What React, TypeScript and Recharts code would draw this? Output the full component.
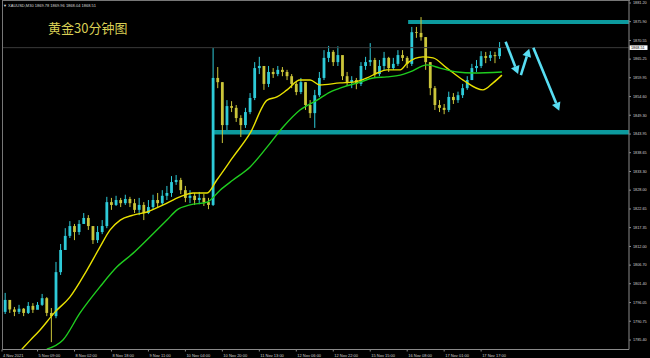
import { ComposedChart, Bar, Line, XAxis, YAxis, ReferenceArea, ReferenceLine } from 'recharts';

const UP = '#2ECAD8';
const DOWN = '#CBC53A';
const ARROW = '#58DDF2';
const ZONE = '#0C9A9E';

// 2-hour candles, first one 4 Nov 19:00
const firstOpen = 1793.4;
const closes = [
	1796.8, 1794.1, 1793.4, 1794.3, 1793.1, 1795.1, 1794.0, 1795.4, 1797.3, 1793.1,
	1792.2, 1804.7, 1811.0, 1815.0, 1817.8, 1816.1, 1818.4, 1820.1, 1817.8, 1813.8,
	1816.1, 1817.8, 1824.6, 1823.8, 1825.2, 1824.3, 1825.5, 1824.3, 1822.4, 1823.8,
	1821.5, 1823.2, 1825.2, 1824.3, 1826.4, 1827.2, 1830.3, 1830.9, 1828.0, 1825.8,
	1826.4, 1825.2, 1825.8, 1824.6, 1823.8, 1859.9, 1858.7, 1846.5, 1851.9, 1851.4,
	1848.5, 1846.5, 1850.2, 1854.2, 1862.7, 1863.3, 1858.2, 1861.6, 1861.0, 1862.2,
	1861.6, 1860.4, 1858.2, 1855.9, 1858.7, 1852.2, 1849.9, 1855.0, 1859.9, 1865.6,
	1867.3, 1864.4, 1866.4, 1860.4, 1858.7, 1859.3, 1858.2, 1863.3, 1864.4, 1865.0,
	1861.0, 1863.3, 1865.6, 1862.7, 1863.9, 1866.4, 1865.6, 1863.9, 1872.9, 1872.7,
	1871.5, 1864.4, 1857.0, 1852.2, 1851.4, 1850.8, 1854.5, 1853.6, 1855.0, 1857.0,
	1859.3, 1862.7, 1863.3, 1866.1, 1865.6, 1866.4, 1866.1, 1868.5,
];
const highs = [
	1798.8, 1796.2, 1794.8, 1795.4, 1794.5, 1796.2, 1795.9, 1796.2, 1798.5, 1797.6,
	1794.5, 1807.6, 1812.7, 1817.2, 1819.2, 1818.4, 1819.5, 1821.5, 1820.9, 1816.7,
	1817.8, 1819.5, 1826.1, 1825.8, 1826.4, 1825.8, 1826.7, 1826.1, 1825.5, 1825.8,
	1824.6, 1825.2, 1826.7, 1827.2, 1828.0, 1829.2, 1832.0, 1832.3, 1831.5, 1829.2,
	1828.0, 1827.2, 1827.5, 1826.9, 1825.8, 1868.4, 1863.0, 1858.7, 1853.6, 1853.3,
	1852.2, 1849.3, 1851.4, 1855.6, 1864.4, 1865.9, 1863.0, 1863.3, 1862.7, 1863.3,
	1863.0, 1862.2, 1861.0, 1858.7, 1859.9, 1858.7, 1853.6, 1856.5, 1861.6, 1867.8,
	1869.0, 1867.8, 1868.9, 1866.1, 1861.6, 1860.4, 1859.9, 1864.4, 1865.9, 1869.8,
	1865.6, 1865.0, 1867.3, 1865.9, 1865.6, 1867.8, 1867.8, 1866.1, 1874.4, 1874.4,
	1877.2, 1871.5, 1864.4, 1857.6, 1853.6, 1852.5, 1856.0, 1855.6, 1856.0, 1858.2,
	1860.4, 1863.9, 1865.0, 1867.5, 1867.3, 1867.5, 1867.3, 1870.1,
];
const lows = [
	1792.8, 1793.1, 1792.2, 1792.8, 1792.2, 1792.8, 1793.1, 1794.3, 1795.1, 1792.2,
	1784.8, 1791.6, 1803.9, 1811.2, 1814.4, 1813.8, 1815.3, 1818.4, 1816.7, 1812.7,
	1813.0, 1815.5, 1817.2, 1822.4, 1823.5, 1823.2, 1823.8, 1823.2, 1821.5, 1820.9,
	1819.5, 1821.2, 1822.4, 1823.0, 1823.8, 1825.2, 1826.1, 1829.5, 1826.9, 1824.6,
	1824.3, 1823.8, 1824.0, 1823.5, 1822.6, 1823.5, 1857.0, 1841.4, 1845.1, 1850.2,
	1847.4, 1843.1, 1845.7, 1849.6, 1853.6, 1861.0, 1856.5, 1857.3, 1859.9, 1860.4,
	1860.4, 1859.3, 1857.0, 1855.0, 1855.3, 1850.8, 1848.5, 1845.7, 1854.5, 1859.3,
	1864.4, 1863.3, 1863.3, 1859.3, 1857.6, 1857.0, 1856.7, 1857.6, 1862.2, 1863.3,
	1859.9, 1860.4, 1862.2, 1861.6, 1862.2, 1863.3, 1864.7, 1862.7, 1863.3, 1871.3,
	1870.5, 1862.2, 1855.0, 1850.8, 1850.2, 1849.6, 1850.2, 1852.5, 1852.8, 1854.2,
	1856.5, 1859.3, 1861.6, 1862.7, 1864.1, 1864.7, 1864.1, 1865.3,
];

// moving averages: [candle index, price]
const yellowMa = [
	[3.6, 1782.8], [5.4, 1785.3], [7.5, 1788.2], [10.8, 1793.4], [14.0, 1797.6],
	[17.7, 1805.3], [20.5, 1811.8], [22.7, 1816.7], [24.9, 1819.5], [27.7, 1820.9],
	[30.7, 1821.8], [34.2, 1823.8], [37.8, 1826.1], [40.7, 1827.2], [43.7, 1827.2],
	[45.8, 1830.9], [49.3, 1837.4], [53.0, 1844.2], [56.7, 1853.6], [58.8, 1854.5],
	[61.0, 1856.5], [63.8, 1859.3], [66.0, 1859.3], [68.1, 1857.9], [72.5, 1858.5],
	[75.3, 1858.7], [78.3, 1859.9], [80.5, 1861.3], [82.6, 1862.2], [85.5, 1862.2],
	[87.0, 1864.1], [90.4, 1865.9], [92.6, 1865.6], [95.6, 1862.7], [99.1, 1859.3],
	[103.4, 1856.5], [105.6, 1858.5], [107.5, 1860.7],
];
const greenMa = [
	[9.0, 1782.8], [12.5, 1785.4], [16.2, 1793.1], [20.5, 1800.5], [24.2, 1806.2],
	[27.7, 1810.1], [31.3, 1814.7], [35.0, 1819.5], [37.2, 1822.4], [40.0, 1823.8],
	[43.7, 1824.6], [46.5, 1828.0], [49.3, 1830.9], [53.0, 1834.6], [56.7, 1840.3],
	[60.1, 1845.9], [63.8, 1850.8], [67.5, 1853.6], [70.3, 1855.9], [73.1, 1857.3],
	[76.8, 1858.7], [79.6, 1859.9], [82.6, 1860.2], [85.5, 1860.7], [87.6, 1861.6],
	[91.3, 1863.6], [94.1, 1862.7], [97.8, 1861.6], [101.3, 1861.3], [107.5, 1861.6],
];

const timeTicks = [-0.69, 7, 15, 23, 31, 39, 47, 55, 63, 71, 79, 87, 95, 103];
const timeLabels = [
	'4 Nov 2021', '5 Nov 09:00', '8 Nov 02:00', '8 Nov 18:00', '9 Nov 11:00',
	'10 Nov 04:00', '10 Nov 20:00', '11 Nov 13:00', '12 Nov 06:00', '12 Nov 22:00',
	'15 Nov 15:00', '16 Nov 08:00', '17 Nov 01:00', '17 Nov 17:00',
];
const priceTicks = [
	1881.2, 1875.9, 1870.55, 1865.25, 1859.95, 1854.6, 1849.3, 1843.95, 1838.65, 1833.3,
	1828.0, 1822.65, 1817.35, 1812.0, 1806.7, 1801.4, 1796.05, 1790.75, 1785.4,
];

const bid = 1868.51;
const lastBar = [1869.78, 1869.96, 1868.04, 1868.51];

// horizontal zones: start index, bottom, top
const zones = [
	[87.2, 1875.2, 1876.4],
	[45.2, 1843.8, 1845.1],
];
// arrows: from (index, price) to (index, price)
const arrows = [
	[108.3, 1870.2, 111.0, 1861.0],
	[111.6, 1860.7, 113.4, 1868.2],
	[114.3, 1868.5, 119.9, 1850.6],
];

const X_MIN = -0.69;
const X_MAX = 135;

const candles = closes.map((c, i) => ({
	x: i,
	o: i === 0 ? firstOpen : closes[i - 1],
	h: highs[i],
	l: lows[i],
	c,
	range: [lows[i], highs[i]],
}));
const yellowData = yellowMa.map(([x, v]) => ({ x, v }));
const greenData = greenMa.map(([x, v]) => ({ x, v }));

const Candle = (props: any) => {
	const { x, y, width, height, payload } = props;
	const { o, h, l, c } = payload;
	const color = c >= o ? UP : DOWN;
	const span = h - l || 1;
	const yOf = (v: number) => y + ((h - v) / span) * height;
	const cx = x + width / 2;
	const top = yOf(Math.max(o, c));
	const bot = yOf(Math.min(o, c));
	return (
		<g>
			<line x1={cx} x2={cx} y1={y} y2={y + height} stroke={color} strokeWidth={1} />
			<rect x={cx - 1.4} y={top} width={2.8} height={Math.max(bot - top, 0.8)} fill={color} />
		</g>
	);
};

const Arrow = (props: any) => {
	const { x1, y1, x2, y2 } = props;
	const dx = x2 - x1;
	const dy = y2 - y1;
	const len = Math.sqrt(dx * dx + dy * dy) || 1;
	const ux = dx / len;
	const uy = dy / len;
	const head = 8;
	const half = 4.5;
	const bx = x2 - ux * head;
	const by = y2 - uy * head;
	const pts = `${x2},${y2} ${bx - uy * half},${by + ux * half} ${bx + uy * half},${by - ux * half}`;
	return (
		<g>
			<line x1={x1} y1={y1} x2={bx} y2={by} stroke={ARROW} strokeWidth={2.6} />
			<polygon points={pts} fill={ARROW} />
		</g>
	);
};

const TimeTick = (props: any) => {
	const { x, y, payload } = props;
	const label = timeLabels[timeTicks.indexOf(payload.value)];
	return (
		<text x={x + 1} y={y + 3} fontSize={4} fill="#d0d0d0" textAnchor="start" fontFamily="Liberation Sans">
			{label}
		</text>
	);
};

const PriceTick = (props: any) => {
	const { x, y, payload } = props;
	return (
		<text x={x} y={y + 1.3} fontSize={3.8} fill="#d0d0d0" textAnchor="start" fontFamily="Liberation Sans">
			{payload.value.toFixed(2)}
		</text>
	);
};

const BidLabel = (props: any) => {
	const vb = props.viewBox;
	const left = vb.x + vb.width;
	return (
		<g>
			<rect x={left + 0.5} y={vb.y - 2.3} width={18} height={4.6} fill="#ffffff" />
			<text x={left + 2} y={vb.y + 1.3} fontSize={3.8} fill="#000" fontFamily="Liberation Sans">
				{bid.toFixed(2)}
			</text>
		</g>
	);
};

const App = () => {
	return (
		<div style={{ position: 'fixed', left: 0, top: 0, width: 650, height: 358, background: '#000' }}>
			<ComposedChart
				width={650}
				height={358}
				data={candles}
				margin={{ top: 1, right: 0, left: 2, bottom: 0 }}
				style={{ background: '#000' }}>
				<XAxis
					dataKey="x"
					type="number"
					domain={[X_MIN, X_MAX]}
					allowDataOverflow
					ticks={timeTicks}
					interval={0}
					tick={<TimeTick />}
					tickSize={2}
					tickLine={{ stroke: '#888' }}
					axisLine={{ stroke: '#8a8a8a' }}
					height={8.5}
				/>
				<YAxis
					orientation="right"
					type="number"
					domain={[1782.71, 1881.77]}
					allowDataOverflow
					ticks={priceTicks}
					interval={0}
					tick={<PriceTick />}
					tickSize={2}
					tickLine={{ stroke: '#888' }}
					axisLine={{ stroke: '#8a8a8a' }}
					width={21}
				/>
				{zones.map(([x1, y1, y2], i) => (
					<ReferenceArea
						key={`zone-${i}`}
						x1={x1}
						x2={X_MAX}
						y1={y1}
						y2={y2}
						fill={ZONE}
						fillOpacity={1}
						stroke="none"
					/>
				))}
				<ReferenceLine y={bid} stroke="#3a3a3a" strokeWidth={1} label={BidLabel} />
				<Bar dataKey="range" barSize={3} shape={(p: any) => <Candle {...p} />} isAnimationActive={false} />
				<Line
					data={yellowData}
					dataKey="v"
					type="monotone"
					stroke="#E8E000"
					strokeWidth={1.4}
					dot={false}
					isAnimationActive={false}
				/>
				<Line
					data={greenData}
					dataKey="v"
					type="monotone"
					stroke="#1FCC1F"
					strokeWidth={1.4}
					dot={false}
					isAnimationActive={false}
				/>
				{arrows.map(([xa, ya, xb, yb], i) => (
					<ReferenceLine
						key={`arrow-${i}`}
						segment={[
							{ x: xa, y: ya },
							{ x: xb, y: yb },
						]}
						shape={Arrow}
					/>
				))}
			</ComposedChart>
			<div
				style={{
					position: 'absolute',
					left: 1.5,
					top: 0,
					width: 627,
					height: 349,
					borderLeft: '1px solid #777',
					borderTop: '1px solid #777',
					pointerEvents: 'none',
				}}
			/>
			<div
				style={{
					position: 'absolute',
					left: 3,
					top: 2.5,
					fontSize: 4,
					lineHeight: '5px',
					color: '#d8d8d8',
					fontFamily: 'Liberation Sans',
					whiteSpace: 'nowrap',
				}}>
				▼ XAUUSD,M30 {lastBar.map((v) => v.toFixed(2)).join(' ')}
			</div>
			<div
				style={{
					position: 'absolute',
					left: 48,
					top: 20,
					fontSize: 13,
					lineHeight: '15px',
					color: '#D9CF55',
					fontFamily: '"Noto Sans CJK SC"',
					whiteSpace: 'nowrap',
				}}>
				黄金30分钟图
			</div>
		</div>
	);
};

export default App;
